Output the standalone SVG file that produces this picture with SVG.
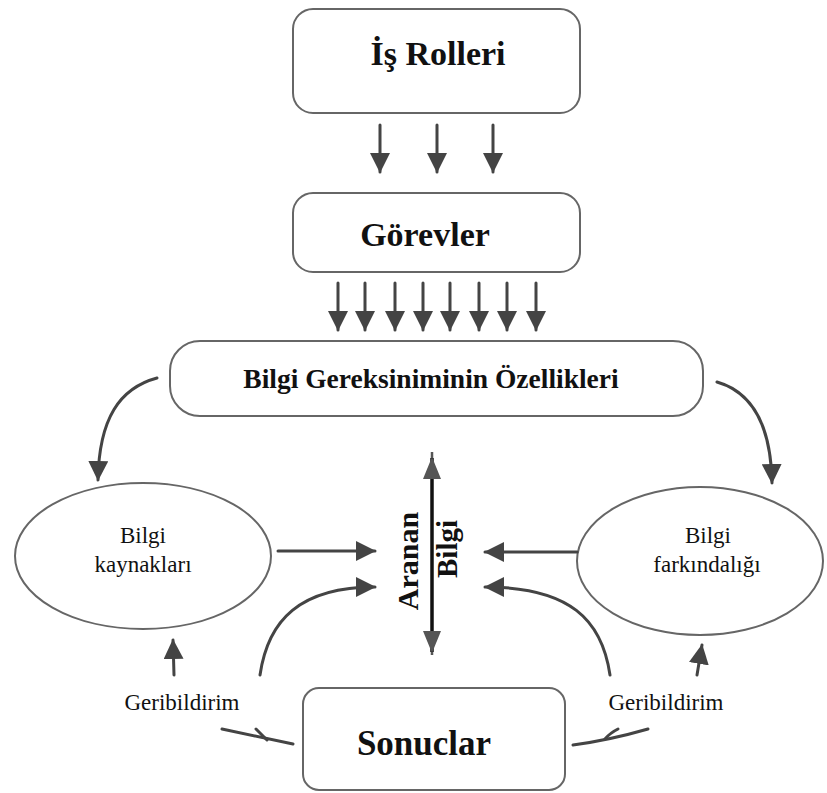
<svg xmlns="http://www.w3.org/2000/svg" width="827" height="793" viewBox="0 0 827 793">
<style>
.box{fill:#fff;stroke:#666;stroke-width:2}
.t{font-family:"Liberation Serif","Times New Roman",serif;fill:#111;text-anchor:middle}
.b{font-weight:bold}
.c{fill:none;stroke:#444;stroke-width:3;stroke-linecap:round}
.a{marker-end:url(#ah)}
</style>
<defs>
<marker id="ah" viewBox="0 0 20 20" refX="19" refY="10" markerWidth="20" markerHeight="20" markerUnits="userSpaceOnUse" orient="auto">
<path d="M0,0 L20,10 L0,20 z" fill="#444"/>
</marker>
<marker id="ahv" viewBox="0 0 22 18" refX="21" refY="9" markerWidth="22" markerHeight="18" markerUnits="userSpaceOnUse" orient="auto-start-reverse">
<path d="M0,0 L22,9 L0,18 z" fill="#555"/>
</marker>
</defs>
<rect width="827" height="793" fill="#fff"/>

<g id="is-rolleri">
<rect class="box" x="293" y="9" width="287" height="104" rx="20"/>
<text class="t b" x="438" y="65" font-size="34">İş Rolleri</text>
</g>
<g id="gorevler">
<rect class="box" x="293" y="193" width="287" height="79" rx="20"/>
<text class="t b" x="425" y="246" font-size="34">Görevler</text>
</g>
<g id="bilgi-gereksinimi">
<rect class="box" x="170" y="341" width="533" height="75" rx="30"/>
<text class="t b" x="431" y="388" font-size="27.5">Bilgi Gereksiniminin Özellikleri</text>
</g>
<g id="bilgi-kaynaklari">
<ellipse class="box" cx="143" cy="556" rx="128" ry="73"/>
<text class="t" x="143" y="543" font-size="23">Bilgi</text>
<text class="t" x="143" y="572" font-size="23">kaynakları</text>
</g>
<g id="bilgi-farkindaligi">
<ellipse class="box" cx="700" cy="561" rx="123" ry="74"/>
<text class="t" x="708" y="543" font-size="23">Bilgi</text>
<text class="t" x="707" y="572" font-size="23">farkındalığı</text>
</g>
<g id="sonuclar">
<rect class="box" x="303" y="688" width="262" height="102" rx="16"/>
<text class="t b" x="424" y="755" font-size="35">Sonuclar</text>
</g>
<g id="aranan-bilgi">
<text class="t b" x="0" y="0" font-size="30" transform="translate(418,561) rotate(-90)">Aranan</text>
<text class="t b" x="0" y="0" font-size="29" transform="translate(457,549) rotate(-90)">Bilgi</text>
</g>
<g id="geribildirim-sol">
<text class="t" x="182" y="710" font-size="23">Geribildirim</text>
</g>
<g id="geribildirim-sag">
<text class="t" x="666" y="710" font-size="23">Geribildirim</text>
</g>

<g id="connectors">
<path class="c a" d="M380,125 L380,172"/>
<path class="c a" d="M437,125 L437,172"/>
<path class="c a" d="M493,125 L493,172"/>
<path class="c a" d="M338,283 L338,330"/>
<path class="c a" d="M365,283 L365,330"/>
<path class="c a" d="M395,283 L395,330"/>
<path class="c a" d="M423,283 L423,330"/>
<path class="c a" d="M450,283 L450,330"/>
<path class="c a" d="M479,283 L479,330"/>
<path class="c a" d="M507,283 L507,330"/>
<path class="c a" d="M536,283 L536,330"/>
<path class="c a" d="M157,378 C120,388 99,418 98,480"/>
<path class="c a" d="M717,382 C752,392 771,425 772,483"/>
<path class="c a" d="M278,551 L375,551"/>
<path class="c a" d="M577,552 L485,552"/>
<path class="c a" d="M260,675 C268,620 300,587 375,587"/>
<path class="c a" d="M610,675 C602,620 570,587 485,587"/>
<path class="c a" d="M174,675 L173,640"/>
<path class="c a" d="M697,675 L702,645"/>
<path d="M432,458 L432,652" fill="none" stroke="#111" stroke-width="3.5" marker-start="url(#ahv)" marker-end="url(#ahv)"/>
<path d="M432,452 L432,458 M432,652 L432,655" stroke="#555" stroke-width="2.5"/>
<path class="c" d="M222,729 Q255,736 293,744" stroke-width="2.5"/>
<path class="c" d="M256,729 Q262,735 267,740" stroke-width="2.5"/>
<path class="c" d="M573,745 Q610,740 648,729" stroke-width="2.5"/>
<path class="c" d="M618,729 Q610,733 605,739" stroke-width="2.5"/>
</g>
</svg>
